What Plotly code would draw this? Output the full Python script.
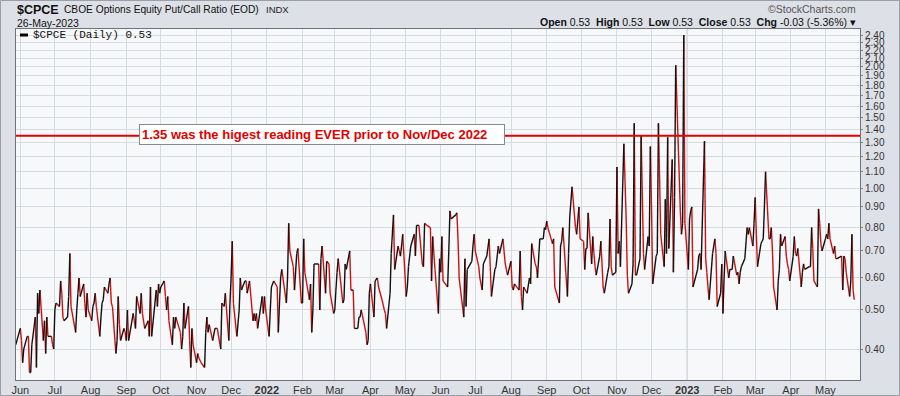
import numpy as np
import pandas as pd
import plotly.graph_objects as go

# ---- data: $CPCE daily closes, grouped by month ----
month_starts = ["2021-05-28", "2021-06", "2021-07", "2021-08", "2021-09", "2021-10", "2021-11", "2021-12",
                "2022-01", "2022-02", "2022-03", "2022-04", "2022-05", "2022-06", "2022-07", "2022-08",
                "2022-09", "2022-10", "2022-11", "2022-12", "2023-01", "2023-02", "2023-03", "2023-04", "2023-05"]
last_day = "2023-05-26"

may21 = [0.41]
jun21 = [0.45, 0.42, 0.37, 0.40, 0.43, 0.43, 0.35, 0.35, 0.41, 0.48, 0.36, 0.55, 0.49, 0.56, 0.42, 0.47, 0.39, 0.48, 0.43, 0.43, 0.41, 0.40]
jul21 = [0.50, 0.52, 0.51, 0.59, 0.55, 0.48, 0.47, 0.48, 0.54, 0.69, 0.51, 0.44, 0.50, 0.55, 0.60, 0.54, 0.58, 0.52, 0.48, 0.55, 0.50]
aug21 = [0.47, 0.51, 0.52, 0.55, 0.51, 0.43, 0.48, 0.52, 0.53, 0.57, 0.55, 0.58, 0.60, 0.52, 0.51, 0.39, 0.42, 0.54, 0.46, 0.42, 0.45, 0.44]
sep21 = [0.42, 0.50, 0.42, 0.49, 0.47, 0.45, 0.54, 0.49, 0.55, 0.49, 0.45, 0.47, 0.43, 0.57, 0.43, 0.56, 0.51, 0.58, 0.55]
oct21 = [0.57, 0.59, 0.54, 0.50, 0.54, 0.47, 0.41, 0.48, 0.45, 0.48, 0.44, 0.40, 0.43, 0.52, 0.45, 0.51, 0.42, 0.36, 0.45, 0.41]
nov21 = [0.37, 0.39, 0.38, 0.37, 0.36, 0.44, 0.48, 0.44, 0.46, 0.42, 0.45, 0.45, 0.45, 0.40, 0.52, 0.51, 0.55, 0.42, 0.52]
dec21 = [0.60, 0.74, 0.52, 0.43, 0.50, 0.60, 0.56, 0.59, 0.59, 0.55, 0.59, 0.47, 0.49, 0.47, 0.49, 0.45, 0.54, 0.49, 0.54, 0.50]
jan22 = [0.43, 0.50, 0.57, 0.59, 0.57, 0.44, 0.52, 0.60, 0.63, 0.52, 0.60, 0.82, 0.70, 0.64, 0.56, 0.69, 0.71, 0.52]
feb22 = [0.52, 0.75, 0.62, 0.53, 0.58, 0.44, 0.50, 0.65, 0.65, 0.50, 0.67, 0.72, 0.55, 0.66, 0.65, 0.55, 0.49]
mar22 = [0.50, 0.56, 0.62, 0.67, 0.52, 0.53, 0.65, 0.63, 0.70, 0.56, 0.56, 0.45, 0.45, 0.48, 0.48, 0.50, 0.44, 0.41, 0.42, 0.55]
apr22 = [0.58, 0.48, 0.59, 0.60, 0.57, 0.53, 0.50, 0.49, 0.45, 0.55, 0.69, 0.86, 0.63, 0.72, 0.68, 0.72, 0.77]
may22 = [0.54, 0.57, 0.64, 0.72, 0.77, 0.68, 0.81, 0.81, 0.65, 0.64, 0.82, 0.81, 0.80, 0.59, 0.76, 0.63, 0.49, 0.67]
jun22 = [0.62, 0.76, 0.59, 0.57, 0.70, 0.88, 0.84, 0.86, 0.87, 0.75, 0.60, 0.48, 0.67, 0.51, 0.63, 0.66, 0.72, 0.77]
jul22 = [0.70, 0.64, 0.60, 0.56, 0.65, 0.68, 0.75, 0.64, 0.54, 0.63, 0.64, 0.72, 0.69, 0.75, 0.65, 0.63, 0.61]
aug22 = [0.66, 0.57, 0.56, 0.58, 0.56, 0.70, 0.54, 0.50, 0.57, 0.55, 0.60, 0.58, 0.73, 0.65, 0.64, 0.60, 0.75, 0.75, 0.80, 0.79]
sep22 = [0.83, 0.80, 0.73, 0.75, 0.57, 0.52, 0.72, 0.74, 0.80, 0.54, 0.69, 0.85, 1.01, 0.80, 0.77, 0.90, 0.75]
oct22 = [0.74, 0.63, 0.71, 0.71, 0.87, 0.65, 0.76, 0.69, 0.64, 0.61, 0.68, 0.74, 0.65, 0.57, 0.55, 0.62, 0.64, 0.84, 0.64, 0.61, 0.62]
nov22 = [1.13, 0.69, 0.74, 0.64, 1.29, 0.84, 0.61, 0.55, 0.58, 0.65, 1.45, 0.61, 0.61, 0.67, 1.35, 0.69, 0.63, 0.76, 0.72, 1.27]
dec22 = [0.90, 0.58, 0.68, 0.69, 1.45, 0.77, 0.64, 0.94, 0.69, 1.34, 0.71, 1.18, 0.62, 0.95, 2.02, 0.88, 0.77, 0.82, 2.40, 0.82]
jan23 = [0.63, 0.84, 0.88, 0.90, 0.57, 0.63, 0.68, 0.69, 0.63, 1.31, 0.67, 0.62, 0.57, 0.53, 0.69, 0.75, 0.69, 0.51, 0.55, 0.65]
feb23 = [0.49, 0.60, 0.70, 0.60, 0.63, 0.63, 0.68, 0.61, 0.62, 0.58, 0.62, 0.64, 0.67, 0.80, 0.77, 0.80, 0.72, 0.82]
mar23 = [0.95, 0.77, 0.64, 0.73, 0.74, 0.75, 0.90, 1.10, 0.75, 0.75, 0.80, 0.70, 0.57, 0.50, 0.59, 0.63, 0.77, 0.72, 0.76, 0.68, 0.65, 0.63, 0.59]
apr23 = [0.68, 0.76, 0.69, 0.68, 0.71, 0.57, 0.62, 0.65, 0.63, 0.64, 0.64, 0.80, 0.71, 0.59, 0.57, 0.89, 0.82, 0.73, 0.70]
may23 = [0.75, 0.77, 0.75, 0.82, 0.75, 0.69, 0.72, 0.67, 0.67, 0.68, 0.56, 0.68, 0.67, 0.62, 0.54, 0.59, 0.77, 0.56, 0.53]

months = [may21, jun21, jul21, aug21, sep21, oct21, nov21, dec21, jan22, feb22, mar22, apr22, may22,
          jun22, jul22, aug22, sep22, oct22, nov22, dec22, jan23, feb23, mar23, apr23, may23]

tick_months = ["Jun", "Jul", "Aug", "Sep", "Oct", "Nov", "Dec", "2022", "Feb", "Mar", "Apr", "May",
               "Jun", "Jul", "Aug", "Sep", "Oct", "Nov", "Dec", "2023", "Feb", "Mar", "Apr", "May"]
y_ticks = [0.40, 0.50, 0.60, 0.70, 0.80, 0.90, 1.00, 1.10, 1.20, 1.30, 1.40, 1.50, 1.60, 1.70,
           1.80, 1.90, 2.00, 2.10, 2.20, 2.30, 2.40]
ref_level = 1.35
note = "1.35 was the higest reading EVER prior to Nov/Dec 2022"

# ---- build dates (trading days of each month) ----
dates, vals = [], []
for i, (ms, mv) in enumerate(zip(month_starts, months)):
    start = pd.Timestamp(ms)
    end = pd.Timestamp(last_day) if i == len(months) - 1 else (start + pd.offsets.MonthEnd(0))
    bd = pd.bdate_range(start, end)
    idx = np.linspace(0, len(bd) - 1, len(mv)).round().astype(int)
    dates.extend(bd[idx])
    vals.extend(mv)

up_x, up_y, dn_x, dn_y = [], [], [], []
for k in range(len(vals) - 1):
    if vals[k + 1] >= vals[k]:
        up_x += [dates[k], dates[k + 1], None]
        up_y += [vals[k], vals[k + 1], None]
    else:
        dn_x += [dates[k], dates[k + 1], None]
        dn_y += [vals[k], vals[k + 1], None]

# pixel helpers for layout text (plot area: x 16..860, y 29..380)
L, R, T, B = 16, 860, 29, 380
def px(x):
    return (x - L) / (R - L)
def py(y):
    return (B - y) / (B - T)

fig = go.Figure()
fig.add_trace(go.Scatter(x=dn_x, y=dn_y, mode="lines", line=dict(color="#d01010", width=1.4),
                         hoverinfo="skip", showlegend=False))
fig.add_trace(go.Scatter(x=up_x, y=up_y, mode="lines", line=dict(color="#111111", width=1.4),
                         hoverinfo="skip", showlegend=False))

tickvals = [pd.Timestamp(m + "-01") for m in month_starts[1:]]
ticktext = ["<b>%s</b>" % t if t.isdigit() else t for t in tick_months]

font_main = "Liberation Sans, Arial, sans-serif"
fig.update_layout(
    width=900, height=396,
    margin=dict(l=L, r=900 - R, t=T, b=396 - B, autoexpand=False),
    paper_bgcolor="#dde0e6",
    plot_bgcolor="#f7f8fa",
    font=dict(family=font_main, size=11, color="#222"),
    xaxis=dict(
        type="date",
        range=[pd.Timestamp("2021-05-28 06:00"), pd.Timestamp("2023-05-31")],
        tickvals=tickvals, ticktext=ticktext, ticks="",
        showgrid=True, gridcolor="#d6dae1", gridwidth=1,
        showline=True, linecolor="#6e737b", linewidth=1, mirror=True,
        zeroline=False, tickfont=dict(size=11, color="#333"),
    ),
    yaxis=dict(
        type="log", side="right",
        range=[-0.4746, 0.3951],
        tickvals=y_ticks, ticktext=["%.2f" % v for v in y_ticks],
        ticks="outside", ticklen=2, tickcolor="#888",
        showgrid=True, gridcolor="#d6dae1", gridwidth=1,
        showline=True, linecolor="#6e737b", linewidth=1, mirror=True,
        zeroline=False, tickfont=dict(size=10, color="#333"),
    ),
)

shapes = [
    dict(type="line", xref="x", yref="paper", x0=pd.Timestamp("2023-01-01"), x1=pd.Timestamp("2023-01-01"),
         y0=0, y1=1, line=dict(color="#a9aeb6", width=1), layer="below"),
    dict(type="line", xref="paper", yref="y", x0=0, x1=1, y0=ref_level, y1=ref_level,
         line=dict(color="#e00000", width=2), layer="above"),
    dict(type="line", xref="paper", yref="paper", x0=px(20), x1=px(28), y0=py(35), y1=py(35),
         line=dict(color="#000", width=3)),
    dict(type="rect", xref="paper", yref="paper", x0=px(0.5), x1=px(899.5), y0=py(395.5), y1=py(0.5),
         line=dict(color="#9a9ea6", width=1), layer="below"),
]
fig.update_layout(shapes=shapes)

ann = [
    dict(text="<b>$CPCE</b>", x=px(15), y=py(10), xanchor="left", yanchor="middle",
         font=dict(size=12.5, color="#111", family=font_main)),
    dict(text="CBOE Options Equity Put/Call Ratio (EOD)", x=px(62), y=py(10), xanchor="left", yanchor="middle",
         font=dict(size=10.2, color="#111", family=font_main)),
    dict(text="INDX", x=px(264), y=py(10), xanchor="left", yanchor="middle",
         font=dict(size=9.5, color="#222", family=font_main)),
    dict(text="26-May-2023", x=px(15), y=py(23), xanchor="left", yanchor="middle",
         font=dict(size=10.5, color="#111", family=font_main)),
    dict(text="©StockCharts.com", x=px(858), y=py(9), xanchor="right", yanchor="middle",
         font=dict(size=10.5, color="#555", family=font_main)),
    dict(text="<b>Open</b> 0.53  <b>High</b> 0.53  <b>Low</b> 0.53  <b>Close</b> 0.53  <b>Chg</b> -0.03 (-5.36%) ▾",
         x=px(858), y=py(22), xanchor="right", yanchor="middle",
         font=dict(size=10.5, color="#111", family=font_main)),
    dict(text="$CPCE (Daily) 0.53", x=px(31), y=py(35), xanchor="left", yanchor="middle",
         font=dict(size=11, color="#111", family="Liberation Mono, DejaVu Sans Mono, monospace")),
    dict(text="<b>" + note + "</b>", x=px(322), y=py(134), xanchor="center", yanchor="middle",
         width=360, align="left", bgcolor="#ffffff", bordercolor="#8a8a8a", borderwidth=1, borderpad=2,
         font=dict(size=13, color="#e00000", family=font_main)),
]
for a in ann:
    a.setdefault("xref", "paper")
    a.setdefault("yref", "paper")
    a.setdefault("showarrow", False)
fig.update_layout(annotations=ann)

fig.write_html("out.html", config={"displayModeBar": False},
               post_script="document.body.style.margin='0px';document.body.style.overflow='hidden';")
